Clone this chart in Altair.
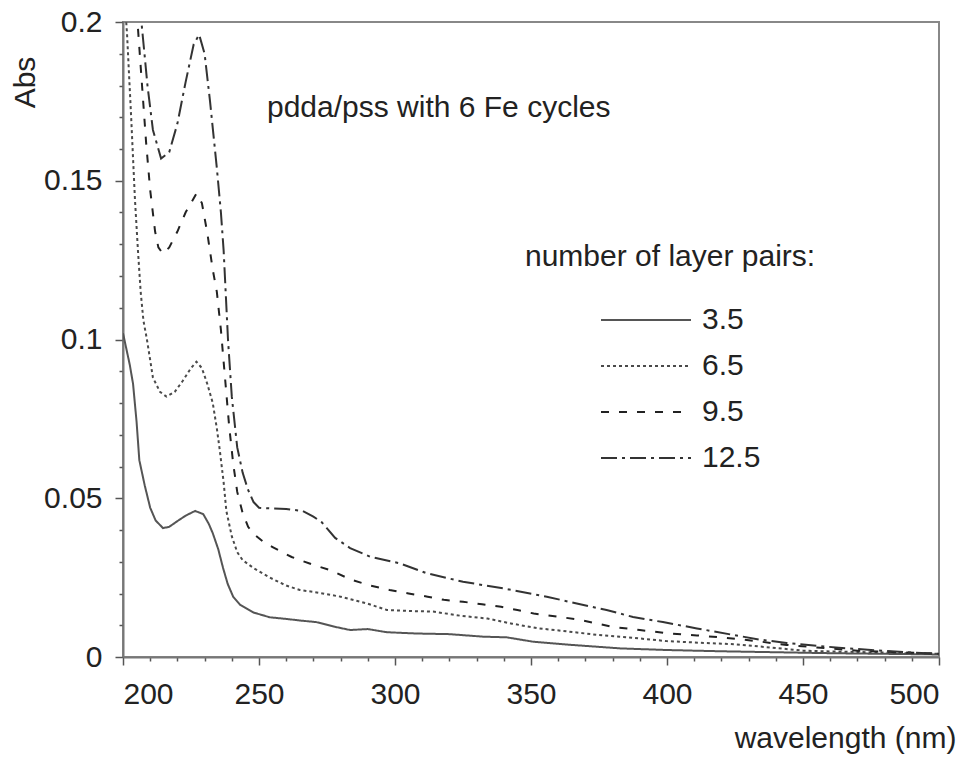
import altair as alt
import pandas as pd

FONT = "Liberation Sans"

series = ["3.5", "6.5", "9.5", "12.5"]
series_colors = ["#555555", "#4a4a4a", "#222222", "#333333"]
series_dash = [[1, 0], [3, 3], [8, 10], [16, 5, 3, 5]]

wl_35 = [200, 201, 202.5, 203.7, 205, 206, 208, 210, 212, 214.7, 217, 220, 223, 226.5, 229.5, 231.5, 233, 235, 236.8, 238.5,
         240.5, 243, 248, 254, 260, 265, 271, 278, 283.5, 290, 297, 308, 320, 332.5, 341, 350.9, 365, 383, 400, 420,
         440, 460, 480, 500]
abs_35 = [0.102, 0.098, 0.092, 0.086, 0.074, 0.062, 0.054, 0.047, 0.043, 0.0406, 0.041, 0.0428, 0.0445, 0.046, 0.045, 0.042, 0.039, 0.034, 0.028, 0.023,
          0.019, 0.0165, 0.014, 0.0125, 0.012, 0.0115, 0.011, 0.0095, 0.0085, 0.0088, 0.0078, 0.0074, 0.0072, 0.0064, 0.0062, 0.0048, 0.0038, 0.0027, 0.0022, 0.0018,
          0.0015, 0.0012, 0.001, 0.0008]

wl_65 = [200, 201.5, 203, 204.4, 205.5, 206.5, 207.5, 208.8, 210, 211, 213.6, 216, 219, 222, 225, 227, 229, 231, 233, 234.5,
         235.6, 237, 238, 240, 242, 244, 248, 254, 260, 265, 270, 280, 290, 297, 305, 314, 324, 334, 343, 353,
         364, 375, 388, 400, 412, 425, 438, 450, 462, 475, 488, 500]
abs_65 = [0.215, 0.196, 0.17, 0.144, 0.128, 0.115, 0.106, 0.1, 0.0935, 0.088, 0.0835, 0.082, 0.0835, 0.087, 0.091, 0.093, 0.091, 0.086, 0.080, 0.072,
          0.065, 0.055, 0.046, 0.038, 0.033, 0.0305, 0.028, 0.025, 0.0225, 0.0211, 0.0205, 0.019, 0.0168, 0.0148, 0.0145, 0.0143, 0.013, 0.0121, 0.0105, 0.009,
          0.008, 0.0069, 0.006, 0.005, 0.0045, 0.004, 0.003, 0.002, 0.0017, 0.0015, 0.0012, 0.001]

wl_95 = [200, 204, 205.5, 207, 208.5, 210, 211.8, 213, 214.7, 217, 220, 223, 227, 229, 231, 233, 234.5, 236, 237.5, 239,
         240.5, 242, 244, 246, 248.5, 252, 255, 262, 270, 276, 284, 291, 298, 305, 312, 318, 325, 332, 339, 345,
         351, 360, 368, 380, 390, 400, 411, 422, 433, 444, 455, 470, 485, 500]
abs_95 = [0.26, 0.215, 0.198, 0.18, 0.162, 0.147, 0.134, 0.129, 0.127, 0.129, 0.134, 0.140, 0.146, 0.143, 0.1335, 0.122, 0.115, 0.103, 0.088, 0.073,
          0.061, 0.052, 0.0453, 0.041, 0.0384, 0.036, 0.0346, 0.0315, 0.029, 0.0274, 0.0243, 0.0225, 0.0211, 0.020, 0.019, 0.018, 0.0174, 0.0166, 0.0158, 0.0148,
          0.0137, 0.0127, 0.0117, 0.0095, 0.0085, 0.0075, 0.0068, 0.006, 0.005, 0.0038, 0.003, 0.002, 0.0015, 0.001]

wl_125 = [200, 204, 207, 209, 211, 214, 217, 220, 223, 226, 228, 230, 232, 234.5, 236, 237, 238.6, 240, 242, 244,
          246, 248, 250, 254, 260, 266, 270, 273, 275, 278, 283.5, 290.8, 301.8, 311.6, 325, 339.8, 355.8, 366, 377.8, 387.5,
          398.5, 411, 424, 434, 444, 452, 462, 475, 488, 500]
abs_125 = [0.26, 0.225, 0.198, 0.18, 0.166, 0.157, 0.159, 0.168, 0.181, 0.193, 0.196, 0.19, 0.175, 0.154, 0.14, 0.128, 0.10, 0.082, 0.066, 0.058,
           0.0526, 0.0488, 0.047, 0.0468, 0.0466, 0.046, 0.0442, 0.0425, 0.0405, 0.0375, 0.0343, 0.0316, 0.0295, 0.0264, 0.0237, 0.0216, 0.019, 0.017, 0.0148, 0.0126,
           0.011, 0.009, 0.007, 0.0055, 0.0044, 0.0038, 0.003, 0.0022, 0.0015, 0.001]

x_ticks = list(range(200, 501, 10))
y_ticks = [round(i * 0.01, 2) for i in range(0, 21)]

annotation = "pdda/pss with 6 Fe cycles"
legend_title = "number of layer pairs:"

rows = []
for name, wl, ab in zip(series, [wl_35, wl_65, wl_95, wl_125], [abs_35, abs_65, abs_95, abs_125]):
    for w, a in zip(wl, ab):
        rows.append({"wavelength": w, "Abs": a, "pairs": name})
df = pd.DataFrame(rows)

legend = alt.Legend(
    title=None, orient="none", legendX=477, legendY=283, padding=0,
    symbolType="stroke", symbolSize=8100, symbolStrokeWidth=2,
    labelFontSize=30, labelFont=FONT, labelColor="#222222", labelOffset=10,
    clipHeight=30, rowPadding=16,
)

y_major = "round(datum.value * 100) % 5 === 0"

lines = alt.Chart(df).mark_line(clip=True, strokeWidth=2).encode(
    x=alt.X(
        "wavelength:Q",
        scale=alt.Scale(domain=[200, 500], nice=False, zero=False),
        axis=alt.Axis(
            values=x_ticks, grid=False,
            labelExpr="datum.value % 50 === 0 ? datum.label : ''",
            tickSize={"condition": {"test": "datum.value % 50 === 0", "value": 8}, "value": 4},
            tickColor="#555555", tickWidth=1.5,
            domainColor="#777777", domainWidth=2,
            labelFont=FONT, labelFontSize=30, labelColor="#222222", labelPadding=14,
            title="wavelength (nm)", titleFont=FONT, titleFontSize=30, titleFontWeight="normal",
            titleColor="#222222", titleX=722, titleY=81, titleAlign="center", titleBaseline="middle",
        ),
    ),
    y=alt.Y(
        "Abs:Q",
        scale=alt.Scale(domain=[0, 0.2], nice=False),
        axis=alt.Axis(
            values=y_ticks, grid=False,
            labelExpr=y_major + " ? format(datum.value, '~g') : ''",
            tickSize={"condition": {"test": y_major, "value": 8}, "value": 4},
            tickColor="#555555", tickWidth=1.5,
            domainColor="#777777", domainWidth=2,
            labelFont=FONT, labelFontSize=30, labelColor="#222222", labelPadding=13,
            title="Abs", titleFont=FONT, titleFontSize=30, titleFontWeight="normal",
            titleColor="#222222", titleX=-98, titleY=60, titleAlign="center", titleBaseline="middle",
            titleAngle=270,
        ),
    ),
    color=alt.Color("pairs:N", scale=alt.Scale(domain=series, range=series_colors), legend=legend),
    strokeDash=alt.StrokeDash("pairs:N", scale=alt.Scale(domain=series, range=series_dash), legend=legend),
)

note = alt.Chart(pd.DataFrame({"t": [annotation]})).mark_text(
    align="left", baseline="alphabetic", font=FONT, fontSize=30, color="#222222"
).encode(x=alt.value(144), y=alt.value(95), text="t:N")

ltitle = alt.Chart(pd.DataFrame({"t": [legend_title]})).mark_text(
    align="left", baseline="alphabetic", font=FONT, fontSize=30, color="#222222"
).encode(x=alt.value(402), y=alt.value(244), text="t:N")

chart = alt.layer(lines, note, ltitle).properties(
    width=816, height=635,
    padding={"left": 123, "top": 22, "right": 27, "bottom": 102},
    autosize=alt.AutoSizeParams(type="none"),
    background="white",
).configure_view(stroke="#888888", strokeWidth=2)

chart.save("out.html", embed_options={"renderer": "svg", "actions": False})
